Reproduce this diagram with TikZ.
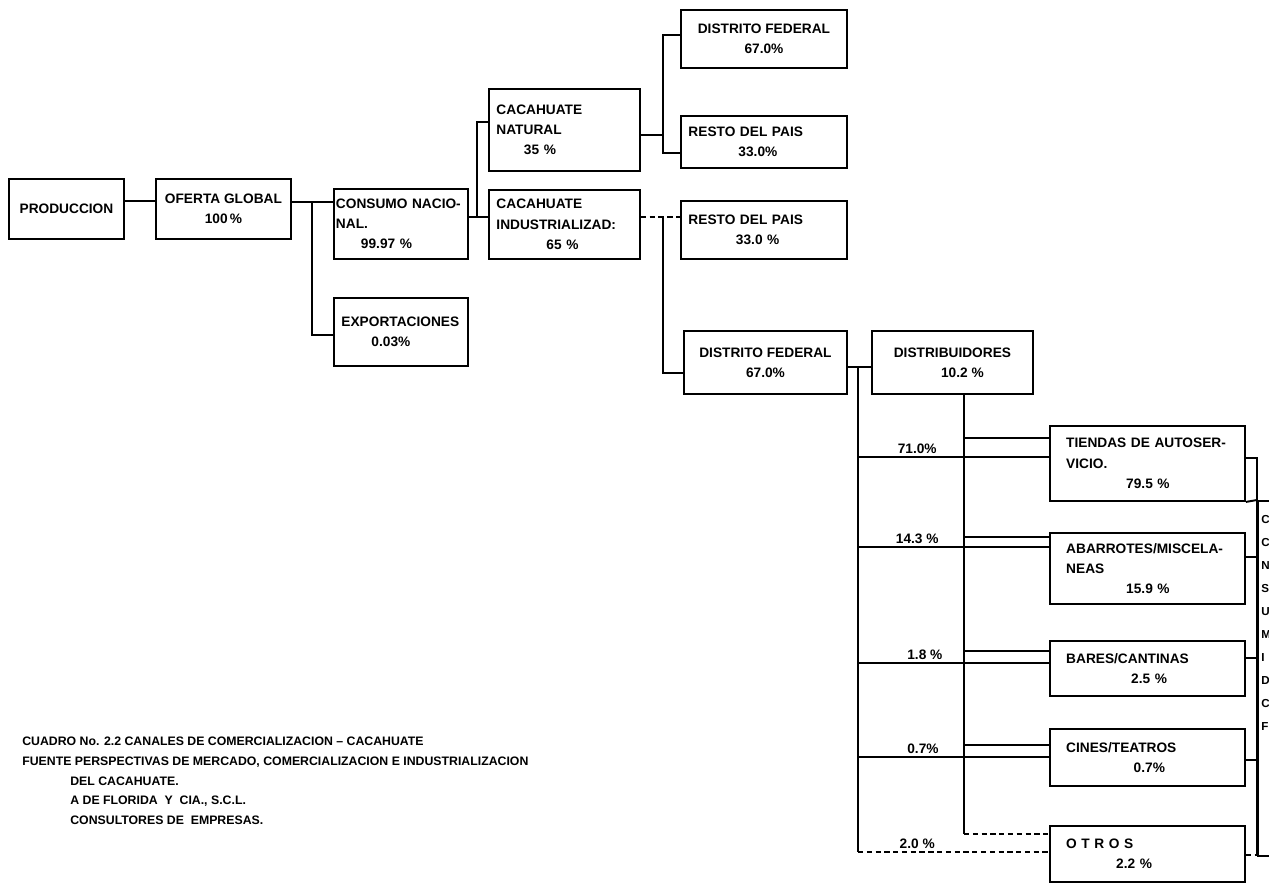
\documentclass[tikz,border=0pt]{standalone}
\usepackage{fontspec}
\setmainfont{Liberation Sans}
\usetikzlibrary{positioning, calc}

\begin{document}
\begin{tikzpicture}[
         x=0.02cm, y=-0.02cm,
         box/.style={draw, line width=1.1pt, anchor=north west, inner xsep=0.15cm, inner ysep=0pt,
            align=center, font=\fontsize{7.8}{11.5}\selectfont\bfseries},
         leftbox/.style={box, align=left},
         shopbox/.style={leftbox, inner xsep=0.325cm, text width=3.25cm},
         link/.style={line width=1.1pt},
         pct/.style={font=\fontsize{7.8}{9}\selectfont\bfseries, inner sep=1.5pt},
         caption/.style={anchor=north west, inner sep=0pt, align=left, font=\fontsize{7.0}{11.2}\selectfont\bfseries}
      ]
         \useasboundingbox (0,0) rectangle (1269,883);

         % Nodes for the first levels
         \node[box, minimum width=2.30cm, minimum height=1.20cm] (prod) at (8,178) {PRODUCCION};
         \node[box, minimum width=2.70cm, minimum height=1.20cm] (oferta) at (155,178) {OFERTA GLOBAL\\100\,\%};
         \node[leftbox, inner xsep=0.04cm, text width=2.60cm, minimum height=1.40cm] (consumo) at (333,188)
            {CONSUMO NACIO-\\NAL.\\\hspace*{0.5cm}99.97 \%};
         \node[leftbox, text width=2.38cm, minimum height=1.36cm] (export) at (333,297)
            {EXPORTACIONES\\\hspace*{0.6cm}0.03\%};
         \node[leftbox, text width=2.72cm, minimum height=1.64cm] (natural) at (488,88)
            {CACAHUATE\\NATURAL\\\hspace*{0.55cm}35 \%};
         \node[leftbox, text width=2.72cm, minimum height=1.38cm] (indus) at (488,189)
            {CACAHUATE\\INDUSTRIALIZAD:\\\hspace*{1.0cm}65 \%};

         % Nodes for the regions
         \node[box, minimum width=3.32cm, minimum height=1.16cm] (df1) at (680,9) {DISTRITO FEDERAL\\67.0\%};
         \node[leftbox, text width=3.02cm, minimum height=1.04cm] (resto1) at (680,115)
            {RESTO DEL PAIS\\\hspace*{1.0cm}33.0\%};
         \node[leftbox, text width=3.02cm, minimum height=1.16cm] (resto2) at (680,200)
            {RESTO DEL PAIS\\\hspace*{0.95cm}33.0 \%};
         \node[box, minimum width=3.26cm, minimum height=1.26cm] (df2) at (683,330) {DISTRITO FEDERAL\\67.0\%};
         \node[box, minimum width=3.22cm, minimum height=1.26cm] (distrib) at (871,330)
            {DISTRIBUIDORES\\\hspace*{0.4cm}10.2 \%};

         % Nodes for the outlets
         \node[shopbox, minimum height=1.50cm] (tiendas) at (1049,425)
            {TIENDAS DE AUTOSER-\\VICIO.\\\hspace*{1.2cm}79.5 \%};
         \node[shopbox, minimum height=1.42cm] (abarrotes) at (1049,532)
            {ABARROTES/MISCELA-\\NEAS\\\hspace*{1.2cm}15.9 \%};
         \node[shopbox, minimum height=1.10cm] (bares) at (1049,640)
            {BARES/CANTINAS\\\hspace*{1.3cm}2.5 \%};
         \node[shopbox, minimum height=1.14cm] (cines) at (1049,728)
            {CINES/TEATROS\\\hspace*{1.35cm}0.7\%};
         \node[shopbox, minimum height=1.12cm] (otros) at (1049,825)
            {O T R O S\\\hspace*{1.0cm}2.2 \%};
         \node[box, minimum width=1.2cm, minimum height=7.10cm] (final) at (1257,500) {};
         \node[box, draw=none, inner sep=0pt, align=left, font=\fontsize{6.6}{13.1}\selectfont\bfseries]
            (finaltxt) at (1260.5,514) {C\\C\\N\\S\\U\\M\\I\\D\\C\\F};

         % Junctions
         \coordinate (j1) at (312,202);
         \coordinate (j1b) at (312,335);
         \coordinate (j2) at (477,217);
         \coordinate (j2b) at (477,122);
         \coordinate (j4) at (663,135);
         \coordinate (j5) at (663,35);
         \coordinate (j6) at (663,153);
         \coordinate (j7) at (663,217);
         \coordinate (j7b) at (663,373);
         \coordinate (j8) at (858,367);
         \coordinate (d0) at (964,393);
         \coordinate (u1) at (964,438);
         \coordinate (l1) at (858,457);
         \coordinate (u2) at (964,537);
         \coordinate (l2) at (858,547);
         \coordinate (u3) at (964,651);
         \coordinate (l3) at (858,663);
         \coordinate (u4) at (964,745);
         \coordinate (l4) at (858,757);
         \coordinate (u5) at (964,834);
         \coordinate (l5) at (858,852);
         \coordinate (r1) at (1257,458);
         \coordinate (r2) at (1257,557);
         \coordinate (r3) at (1257,658);
         \coordinate (r4) at (1257,760);
         \coordinate (r5) at (1257,855);

         % Connectors
         \draw[link] ([yshift=0.16cm]prod.east) -- ([yshift=0.16cm]oferta.west);
         \draw[link] (oferta.east |- j1) -- (consumo.west |- j1);
         \draw[link] (j1) -- (j1b) -- (export.west |- j1b);
         \draw[link] (consumo.east |- j2) -- (indus.west |- j2);
         \draw[link] (j2) -- (j2b) -- (natural.west |- j2b);
         \draw[link] (natural.east |- j4) -- (j4);
         \draw[link] (df1.west |- j5) -- (j5) -- (j6) -- (resto1.west |- j6);
         \draw[link, densely dashed] (indus.east |- j7) -- (resto2.west |- j7);
         \draw[link] (j7) -- (j7b) -- (df2.west |- j7b);
         \draw[link] (df2.east |- j8) -- (distrib.west |- j8);
         \draw[link] (j8) -- (l5);
         \draw[link] (distrib.south -| d0) -- (u5);

         % Shares from the distributors
         \draw[link] (u1) -- (tiendas.west |- u1);
         \draw[link] (l1) -- node[pct, above, pos=.31] (p1) {71.0\%} (tiendas.west |- l1);
         \draw[link] (u2) -- (abarrotes.west |- u2);
         \draw[link] (l2) -- node[pct, above, pos=.31] (p2) {14.3 \%} (abarrotes.west |- l2);
         \draw[link] (u3) -- (bares.west |- u3);
         \draw[link] (l3) -- node[pct, above, pos=.35] (p3) {1.8 \%} (bares.west |- l3);
         \draw[link] (u4) -- (cines.west |- u4);
         \draw[link] (l4) -- node[pct, above, pos=.34] (p4) {0.7\%} (cines.west |- l4);
         \draw[link, densely dashed] (u5) -- (otros.west |- u5);
         \draw[link, densely dashed] (l5) -- node[pct, above, pos=.31] (p5) {2.0 \%} (otros.west |- l5);

         % Outlets to the consumer
         \draw[link] (tiendas.east |- r1) -- (r1) -- (r5);
         \draw[link] (tiendas.south east) -- (final.north west);
         \draw[link] (abarrotes.east |- r2) -- (r2);
         \draw[link] (bares.east |- r3) -- (r3);
         \draw[link] (cines.east |- r4) -- (r4);
         \draw[link, densely dashed] (otros.east |- r5) -- (r5);

         % Caption
         \node[caption] (source) at (22,737) {%
            CUADRO No. 2.2 CANALES DE COMERCIALIZACION \textendash\ CACAHUATE\\
            FUENTE PERSPECTIVAS DE MERCADO, COMERCIALIZACION E INDUSTRIALIZACION\\
            \hspace*{0.96cm}DEL CACAHUATE.\\
            \hspace*{0.96cm}A DE FLORIDA \ Y \ CIA., S.C.L.\\
            \hspace*{0.96cm}CONSULTORES DE \ EMPRESAS.};

      \end{tikzpicture}
\end{document}
